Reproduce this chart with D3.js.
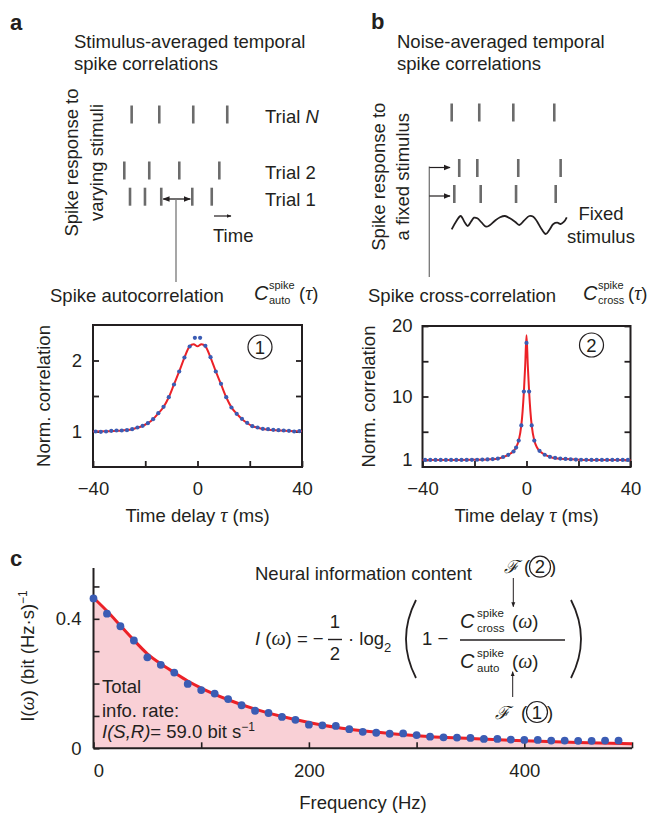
<!DOCTYPE html>
<html><head><meta charset="utf-8">
<script src="https://cdn.jsdelivr.net/npm/d3@7"></script>
<style>body{margin:0;background:#fff}</style>
</head><body>
<svg id="chart" width="661" height="813"></svg>
<script>
// ================= DATA =================
// Panel a: stimulus-averaged spike autocorrelation
const autoTau = [-39,-37,-35,-33,-31,-29,-27,-25,-23,-21,-19,-17,-15,-13,-11,-9,-7,-5,-3,-1,1,3,5,7,9,11,13,15,17,19,21,23,25,27,29,31,33,35,37,39];
const autoVal = [1.000,0.995,1.000,1.009,1.014,1.014,1.019,1.033,1.056,1.080,1.117,1.174,1.258,1.347,1.484,1.662,1.845,2.042,2.197,2.319,
                 2.319,2.207,2.047,1.845,1.671,1.484,1.338,1.249,1.178,1.122,1.075,1.056,1.038,1.033,1.023,1.019,1.014,1.009,1.000,1.005];
const autoFitTau = [-40,-35,-31,-27,-25,-23,-21,-19,-17,-15,-13,-11,-9,-7,-5,-3,-1.5,0,1.5,3,5,7,9,11,13,15,17,19,21,23,25,27,31,35,40];
const autoFitVal = [1.000,1.002,1.010,1.020,1.032,1.052,1.078,1.117,1.174,1.255,1.345,1.482,1.664,1.846,2.040,2.200,2.230,2.200,2.230,2.200,2.040,1.846,1.666,1.482,1.340,1.250,1.176,1.120,1.076,1.054,1.036,1.026,1.015,1.006,1.002];
const autoYTicks = [1, 1.5, 2];
const autoYLabels = ["1", "", "2"];

// Panel b: noise-averaged spike cross-correlation
const crossTau = [-39,-37,-35,-33,-31,-29,-27,-25,-23,-21,-19,-17,-15,-13,-11,-9,-7,-5,-4,-3,-2,-1,0,1,2,3,5,7,9,11,13,15,17,19,21,23,25,27,29,31,33,35,37,39];
const crossVal = [1.00,1.00,1.00,1.00,1.00,1.00,1.00,1.01,1.01,1.02,1.03,1.05,1.08,1.12,1.20,1.42,1.72,2.20,2.75,3.75,5.90,10.7,17.6,10.7,5.90,3.75,2.30,1.74,1.45,1.30,1.20,1.15,1.10,1.05,1.03,1.02,1.01,1.01,1.00,1.00,1.00,1.00,1.00,1.00];
const crossFitTau = [-40,-25,-20,-15,-12,-10,-8,-6,-5,-4,-3,-2,-1.5,-1,-0.5,0,0.5,1,1.5,2,3,4,5,6,8,10,12,15,20,25,40];
const crossFitVal = [1.00,1.01,1.03,1.08,1.15,1.28,1.55,1.95,2.25,2.80,3.75,5.90,7.90,10.7,14.4,18.7,14.4,10.7,7.90,5.90,3.75,2.80,2.28,1.98,1.58,1.32,1.20,1.12,1.04,1.01,1.00];
const crossYTicks = [1, 5, 10, 15, 20];
const crossYLabels = ["1", "", "10", "", "20"];

const tauTicks = [-40, -20, 0, 20, 40];
const tauLabels = ["\u221240", "", "0", "", "40"];

// Panel c: information spectrum
const freqHz = [0,12.5,25,37.5,50,62.5,75,87.5,100,112.5,125,137.5,150,162.5,175,187.5,200,212.5,225,237.5,250,262.5,275,287.5,300,312.5,325,337.5,350,362.5,375,387.5,400,412.5,425,437.5,450,462.5,475,487.5];
const infoVal = [0.463,0.416,0.377,0.333,0.281,0.258,0.234,0.199,0.180,0.169,0.152,0.133,0.116,0.109,0.097,0.088,0.073,0.071,0.069,0.059,0.051,0.048,0.045,0.046,0.041,0.036,0.034,0.033,0.032,0.029,0.029,0.027,0.026,0.026,0.024,0.024,0.023,0.023,0.024,0.024];
const infoFitFreq = [0,12.5,25,37.5,50,62.5,75,87.5,100,125,150,175,200,225,250,275,300,350,400,450,500];
const infoFitVal = [0.465,0.424,0.379,0.334,0.292,0.261,0.234,0.208,0.186,0.150,0.121,0.098,0.080,0.065,0.054,0.046,0.039,0.030,0.023,0.018,0.014];
const infoYTicks = [0, 0.1, 0.2, 0.3, 0.4, 0.5];
const infoYLabels = ["0", "", "", "", "0.4", ""];
const freqTicks = [0, 100, 200, 300, 400, 500];
const freqLabels = ["0", "", "200", "", "400", ""];

// Rasters (spike times, arbitrary time units 0-100)
const rasterA_trialN = [10.6, 35.7, 66.6, 97.5];
const rasterA_trial2 = [3.9, 26.6, 53.9, 90.3];
const rasterA_trial1 = [9.1, 22.7, 37.5, 65.7, 83.4];
const rasterB_row1 = [9.0, 30.2, 56.4, 87.9];
const rasterB_row2 = [14.8, 28.7, 60.2, 92.8];
const rasterB_row3 = [11.0, 31.3, 58.5, 89.0];
// Fixed stimulus waveform (time, amplitude)
const stimT = [9.0,12.3,15.9,18.7,21.3,23.8,26.2,28.7,32.1,35.4,38.5,42.3,46.2,50.0,53.8,57.7,61.0,64.6,68.7,71.8,74.8,78.2,81.3,84.1,87.2,90.2,92.8,95.4,97.5];
const stimV = [-0.43,0.33,0.90,0.33,-0.10,0.33,0.73,0.67,0.23,-0.17,0.00,0.43,0.77,0.90,0.67,0.33,0.00,0.43,0.90,0.83,0.33,-0.43,-0.90,-0.50,0.10,0.23,0.10,0.33,0.77];

// ================= DRAWING =================
const FONT = "'Liberation Sans', Arial, Helvetica, sans-serif";
const SERIF = "'Liberation Serif', 'DejaVu Serif', serif";
const FS = 18.5;
const RED = "#ec2127", BLUE = "#3b5cb4", PINK = "#f9d0d6", GRAY = "#6b6b6b", INK = "#231f20";
const svg = d3.select("#chart").style("font-family", FONT);

svg.append("defs").html(`
 <marker id="ah" viewBox="0 0 10 10" refX="9" refY="5" markerWidth="7" markerHeight="7" orient="auto-start-reverse" markerUnits="userSpaceOnUse">
  <path d="M0,1 L10,5 L0,9 z" fill="${INK}"/></marker>
 <marker id="ahs" viewBox="0 0 10 10" refX="9" refY="5" markerWidth="5" markerHeight="5" orient="auto-start-reverse" markerUnits="userSpaceOnUse">
  <path d="M0,1 L10,5 L0,9 z" fill="${INK}"/></marker>`);

function txt(x, y, s, o = {}) {
  const t = svg.append("text").attr("x", x).attr("y", y).text(s)
    .attr("font-size", o.size || FS).attr("fill", o.fill || INK);
  if (o.anchor) t.attr("text-anchor", o.anchor);
  if (o.weight) t.attr("font-weight", o.weight);
  if (o.italic) t.attr("font-style", "italic");
  if (o.family) t.attr("font-family", o.family);
  if (o.rotate) t.attr("transform", `rotate(${o.rotate},${x},${y})`);
  return t;
}
function greek(t, ch) {
  t.append("tspan").attr("font-style", "italic").attr("font-family", SERIF).attr("font-size", 20).text(ch);
}

// Panel letters and titles
txt(10, 30, "a", {size: 22, weight: "bold"});
txt(371, 29, "b", {size: 22, weight: "bold"});
txt(10, 566, "c", {size: 22, weight: "bold"});
txt(74, 48, "Stimulus-averaged temporal");
txt(74, 70, "spike correlations");
txt(397, 48, "Noise-averaged temporal");
txt(397, 70, "spike correlations");

// ---- raster panel a ----
const rxA = d3.scaleLinear().domain([0, 100]).range([120, 230]);
function raster(times, xs, cy) {
  svg.append("g").selectAll("line").data(times).join("line")
    .attr("x1", d => xs(d)).attr("x2", d => xs(d))
    .attr("y1", cy - 9).attr("y2", cy + 9)
    .attr("stroke", GRAY).attr("stroke-width", 2.6);
}
raster(rasterA_trialN, rxA, 114.5);
raster(rasterA_trial2, rxA, 170.5);
raster(rasterA_trial1, rxA, 196.7);
txt(265, 123, "Trial ").append("tspan").attr("font-style", "italic").text("N");
txt(265, 179, "Trial 2");
txt(265, 206, "Trial 1");
svg.append("line").attr("x1", rxA(rasterA_trial1[2]) + 2).attr("x2", rxA(rasterA_trial1[3]) - 2)
  .attr("y1", 199).attr("y2", 199).attr("stroke", INK).attr("stroke-width", 1.3)
  .attr("marker-start", "url(#ah)").attr("marker-end", "url(#ah)");
svg.append("line").attr("x1", 176).attr("x2", 176).attr("y1", 199).attr("y2", 282)
  .attr("stroke", "#777").attr("stroke-width", 1.3);
svg.append("line").attr("x1", 214).attr("x2", 231).attr("y1", 216).attr("y2", 216)
  .attr("stroke", INK).attr("stroke-width", 1.2).attr("marker-end", "url(#ahs)");
txt(213, 242, "Time");
txt(72, 162.5, "Spike response to", {anchor: "middle", rotate: -90}).attr("dy", "0.35em");
txt(97, 162.5, "varying stimuli", {anchor: "middle", rotate: -90}).attr("dy", "0.35em");

function cNotation(x, base, sub) {
  txt(x, base, "C", {size: 20, italic: true});
  txt(x + 15, base - 11, "spike", {size: 11});
  txt(x + 15, base + 4, sub, {size: 11});
  const t = txt(x + 45, base, "(");
  greek(t, "\u03c4");
  t.append("tspan").text(")");
}
txt(50, 302, "Spike autocorrelation");
cNotation(254, 300, "auto");

// ---- raster panel b ----
const rxB = d3.scaleLinear().domain([0, 100]).range([440, 570]);
raster(rasterB_row1, rxB, 112.5);
raster(rasterB_row2, rxB, 168);
raster(rasterB_row3, rxB, 194);
const syB = d3.scaleLinear().domain([-1, 1]).range([235, 215]);
svg.append("path").datum(stimT.map((t, i) => [t, stimV[i]]))
  .attr("d", d3.line().x(d => rxB(d[0])).y(d => syB(d[1])).curve(d3.curveCatmullRom))
  .attr("fill", "none").attr("stroke", INK).attr("stroke-width", 1.8);
txt(601, 220, "Fixed", {anchor: "middle"});
txt(601, 243, "stimulus", {anchor: "middle"});
svg.append("line").attr("x1", 429.3).attr("x2", 429.3).attr("y1", 166.5).attr("y2", 277)
  .attr("stroke", "#777").attr("stroke-width", 1.3);
svg.append("line").attr("x1", 429.3).attr("x2", 450).attr("y1", 167.5).attr("y2", 167.5)
  .attr("stroke", INK).attr("stroke-width", 1.2).attr("marker-end", "url(#ah)");
svg.append("line").attr("x1", 429.3).attr("x2", 450).attr("y1", 196).attr("y2", 196)
  .attr("stroke", INK).attr("stroke-width", 1.2).attr("marker-end", "url(#ah)");
txt(378.5, 176.7, "Spike response to", {anchor: "middle", rotate: -90}).attr("dy", "0.35em");
txt(403, 176.7, "a fixed stimulus", {anchor: "middle", rotate: -90}).attr("dy", "0.35em");
txt(368, 302, "Spike cross-correlation");
cNotation(583, 300, "cross");

// ---- correlation plots ----
function corrPlot(opt) {
  const x = d3.scaleLinear().domain([-40, 40]).range(opt.xr);
  const y = d3.scaleLinear().domain(opt.yd).range(opt.yr);
  const g = svg.append("g");
  g.append("g").attr("transform", `translate(0,${opt.yr[0]})`)
    .call(d3.axisBottom(x).tickValues(tauTicks).tickSize(-6).tickPadding(15)
      .tickFormat((d, i) => tauLabels[i]));
  g.append("g").attr("transform", `translate(${opt.xr[0]},0)`)
    .call(d3.axisLeft(y).tickValues(opt.yticks).tickSize(-6).tickPadding(opt.pad)
      .tickFormat((d, i) => opt.ylabels[i]));
  g.append("g").attr("transform", `translate(${opt.xr[1]},0)`)
    .call(d3.axisRight(y).tickValues(opt.yticks).tickSize(-6).tickFormat(""));
  g.selectAll(".domain").remove();
  g.selectAll(".tick line").attr("stroke", INK).attr("stroke-width", 1.8);
  g.selectAll(".tick text").attr("font-size", FS).attr("fill", INK).attr("font-family", FONT);
  g.append("rect").attr("x", opt.xr[0]).attr("y", opt.yr[1])
    .attr("width", opt.xr[1] - opt.xr[0]).attr("height", opt.yr[0] - opt.yr[1])
    .attr("fill", "none").attr("stroke", INK).attr("stroke-width", 2);
  g.append("path").datum(opt.fitT.map((t, i) => [t, opt.fitV[i]]))
    .attr("d", d3.line().x(d => x(d[0])).y(d => y(d[1])).curve(d3.curveMonotoneX))
    .attr("fill", "none").attr("stroke", RED).attr("stroke-width", 2);
  g.append("g").selectAll("circle").data(opt.t.map((t, i) => [t, opt.v[i]])).join("circle")
    .attr("cx", d => x(d[0])).attr("cy", d => y(d[1])).attr("r", 2.1).attr("fill", BLUE);
  const cx = (opt.xr[0] + opt.xr[1]) / 2;
  const tl = txt(cx, opt.yr[0] + 55, "Time delay ", {anchor: "middle"});
  greek(tl, "\u03c4");
  tl.append("tspan").text(" (ms)");
  txt(opt.ylabX, (opt.yr[0] + opt.yr[1]) / 2, "Norm. correlation", {anchor: "middle", rotate: -90}).attr("dy", "0.35em");
  g.append("circle").attr("cx", opt.circ[0]).attr("cy", opt.circ[1]).attr("r", 12)
    .attr("fill", "none").attr("stroke", INK).attr("stroke-width", 1.2);
  txt(opt.circ[0], opt.circ[1] + 6.5, opt.num, {anchor: "middle"});
}
corrPlot({xr: [93, 302], yr: [467, 325], yd: [0.5, 2.5], yticks: autoYTicks, ylabels: autoYLabels, pad: 11,
  t: autoTau, v: autoVal, fitT: autoFitTau, fitV: autoFitVal, ylabX: 44, circ: [260, 347], num: "1"});
corrPlot({xr: [422.5, 630.5], yr: [467, 326], yd: [0, 20], yticks: crossYTicks, ylabels: crossYLabels, pad: 10,
  t: crossTau, v: crossVal, fitT: crossFitTau, fitV: crossFitVal, ylabX: 368.5, circ: [591.5, 345], num: "2"});

// ---- panel c ----
const xC = d3.scaleLinear().domain([0, 500]).range([93.5, 632]);
const yC = d3.scaleLinear().domain([0, 0.557]).range([748.3, 568]);
const gc = svg.append("g");
const fitPts = infoFitFreq.map((f, i) => [f, infoFitVal[i]]);
gc.append("path").datum(fitPts)
  .attr("d", d3.area().x(d => xC(d[0])).y0(yC(0)).y1(d => yC(d[1])).curve(d3.curveMonotoneX))
  .attr("fill", PINK);
const gxC = gc.append("g").attr("transform", `translate(0,${yC(0)})`)
  .call(d3.axisBottom(xC).tickValues(freqTicks).tickSize(-6).tickPadding(16)
    .tickFormat((d, i) => freqLabels[i]));
const gyC = gc.append("g").attr("transform", `translate(${xC(0)},0)`)
  .call(d3.axisLeft(yC).tickValues(infoYTicks).tickSize(-6).tickPadding(12)
    .tickFormat((d, i) => infoYLabels[i]));
gc.selectAll(".domain").remove();
gc.selectAll(".tick line").attr("stroke", INK).attr("stroke-width", 1.6);
gc.selectAll(".tick text").attr("font-size", FS).attr("fill", INK).attr("font-family", FONT);
gxC.selectAll(".tick").filter(d => d === 0).select("text").attr("dx", 5);
gc.append("line").attr("x1", xC(0)).attr("x2", xC(500)).attr("y1", yC(0)).attr("y2", yC(0))
  .attr("stroke", INK).attr("stroke-width", 2);
gc.append("line").attr("x1", xC(0)).attr("x2", xC(0)).attr("y1", yC(0.557)).attr("y2", yC(0))
  .attr("stroke", INK).attr("stroke-width", 2);
gc.append("path").datum(fitPts)
  .attr("d", d3.line().x(d => xC(d[0])).y(d => yC(d[1])).curve(d3.curveMonotoneX))
  .attr("fill", "none").attr("stroke", RED).attr("stroke-width", 3);
gc.append("g").selectAll("circle").data(freqHz.map((f, i) => [f, infoVal[i]])).join("circle")
  .attr("cx", d => xC(d[0])).attr("cy", d => yC(d[1])).attr("r", 3.9).attr("fill", BLUE);
txt(363, 809, "Frequency (Hz)", {anchor: "middle"});
{
  const t = txt(28, 656, "I(", {anchor: "middle", rotate: -90}).attr("dy", "0.35em");
  greek(t, "\u03c9");
  t.append("tspan").text(") (bit (Hz\u00b7s)");
  t.append("tspan").attr("font-size", 12).attr("dy", "-7").text("\u22121");
}
txt(102, 693, "Total");
txt(102, 716.5, "info. rate:");
{
  const t = txt(102, 738, "");
  t.append("tspan").attr("font-style", "italic").text("I(S,R)");
  t.append("tspan").text("= 59.0 bit s");
  t.append("tspan").attr("font-size", 12).attr("dy", "-7").text("\u22121");
}

// formula
txt(255, 580, "Neural information content");
{
  const t = txt(255, 645, "");
  t.append("tspan").attr("font-style", "italic").text("I");
  t.append("tspan").text(" (");
  greek(t, "\u03c9");
  t.append("tspan").text(") = \u2212");
}
txt(335, 628, "1", {anchor: "middle"});
txt(335, 660, "2", {anchor: "middle"});
svg.append("line").attr("x1", 328).attr("x2", 342).attr("y1", 639.5).attr("y2", 639.5).attr("stroke", INK).attr("stroke-width", 1.4);
txt(348, 645, "\u00b7 log");
txt(384, 652, "2", {size: 13});
svg.append("path").attr("d", "M416,600 Q396,639 416,678").attr("fill", "none").attr("stroke", INK).attr("stroke-width", 1.8);
svg.append("path").attr("d", "M571,600 Q591,639 571,678").attr("fill", "none").attr("stroke", INK).attr("stroke-width", 1.8);
txt(422, 645, "1 \u2212");
function cOmega(x, base, sub) {
  txt(x, base, "C", {size: 20, italic: true});
  txt(x + 17, base - 11, "spike", {size: 11.5});
  txt(x + 17, base + 4, sub, {size: 11.5});
  const t = txt(x + 52, base, "(");
  greek(t, "\u03c9");
  t.append("tspan").text(")");
}
cOmega(460, 628, "cross");
cOmega(460, 668, "auto");
svg.append("line").attr("x1", 460).attr("x2", 565).attr("y1", 640).attr("y2", 640).attr("stroke", INK).attr("stroke-width", 1.6);
svg.append("line").attr("x1", 513.3).attr("x2", 513.3).attr("y1", 578).attr("y2", 606.7)
  .attr("stroke", INK).attr("stroke-width", 1).attr("marker-end", "url(#ahs)");
svg.append("line").attr("x1", 512.7).attr("x2", 512.7).attr("y1", 697).attr("y2", 671.7)
  .attr("stroke", INK).attr("stroke-width", 1).attr("marker-end", "url(#ahs)");
function fCirc(fx, cy, cx, num) {
  txt(fx, cy + 6.5, "\u2131", {anchor: "middle", size: 18, italic: true, family: "'DejaVu Serif', serif"});
  txt(cx - 13, cy + 6.5, "(", {anchor: "middle"});
  txt(cx + 13, cy + 6.5, ")", {anchor: "middle"});
  svg.append("circle").attr("cx", cx).attr("cy", cy).attr("r", 10.5).attr("fill", "none").attr("stroke", INK).attr("stroke-width", 1.2);
  txt(cx, cy + 6.5, num, {anchor: "middle"});
}
fCirc(511.7, 566.7, 540, "2");
fCirc(502, 712, 537, "1");
</script>
</body></html>
